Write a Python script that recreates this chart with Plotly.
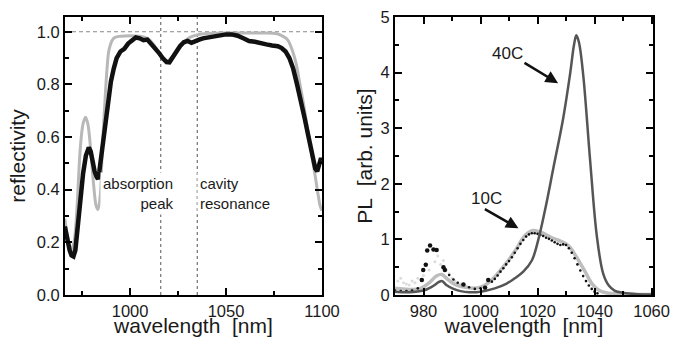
import plotly.graph_objects as go

# ---------------- data: reflectivity (left panel) ----------------
refl_theory_x = [966, 967, 968.5, 969.5, 971, 972.5, 974, 975.5, 976.8, 978, 979.5, 981, 982.3, 983.3,
                 984.5, 985.5, 986.8, 988, 989, 990.5, 992, 995, 1000, 1005, 1009, 1012, 1015, 1017.5,
                 1019.5, 1022, 1025, 1028, 1031, 1035, 1040, 1050, 1060, 1070, 1076, 1079, 1082, 1084.5,
                 1086.5, 1088.5, 1090.5, 1092.5, 1094.5, 1096.5, 1098, 1099, 1100]
refl_theory_y = [0.29, 0.24, 0.19, 0.17, 0.21, 0.35, 0.55, 0.65, 0.675, 0.65, 0.55, 0.42, 0.34, 0.325,
                 0.38, 0.55, 0.72, 0.86, 0.93, 0.965, 0.978, 0.983, 0.985, 0.983, 0.975, 0.955, 0.92, 0.895,
                 0.89, 0.905, 0.935, 0.96, 0.978, 0.988, 0.993, 0.995, 0.995, 0.995, 0.993, 0.985, 0.97, 0.93,
                 0.88, 0.80, 0.72, 0.63, 0.54, 0.45, 0.38, 0.34, 0.32]

refl_meas_x = [966, 967, 968.5, 969.5, 970.5, 971.5, 972.5, 974, 975.5, 977, 978.5, 979.5, 980.5, 981.5,
               982.5, 983.3, 984, 985, 986, 987.5, 988.5, 990, 991.5, 993, 995, 997, 999, 1001, 1003,
               1005, 1007, 1009, 1011, 1013, 1015, 1017, 1019, 1020.5, 1022, 1024, 1026, 1028, 1030,
               1032, 1034, 1036, 1038, 1040, 1043, 1046, 1050, 1053, 1056, 1059, 1062, 1065, 1068, 1071,
               1074, 1077, 1079, 1081, 1083, 1085, 1087, 1089, 1091, 1093, 1095, 1096.5, 1097.5, 1098.5,
               1099.5, 1100]
refl_meas_y = [0.26, 0.22, 0.17, 0.15, 0.146, 0.17, 0.25, 0.36, 0.46, 0.53, 0.56, 0.545, 0.50, 0.47,
               0.45, 0.44, 0.47, 0.53, 0.59, 0.66, 0.73, 0.81, 0.86, 0.90, 0.925, 0.935, 0.955, 0.965, 0.978,
               0.975, 0.968, 0.97, 0.955, 0.94, 0.92, 0.90, 0.885, 0.884, 0.90, 0.925, 0.945, 0.96, 0.965,
               0.958, 0.962, 0.97, 0.975, 0.978, 0.982, 0.987, 0.99, 0.99, 0.985, 0.975, 0.965, 0.962, 0.955,
               0.952, 0.948, 0.945, 0.938, 0.925, 0.90, 0.86, 0.80, 0.74, 0.67, 0.60, 0.53, 0.48, 0.47,
               0.49, 0.52, 0.51]

refl_hline = [1.0]
refl_vlines = [1016, 1035]

# ---------------- data: PL (right panel) ----------------
pl40_x = [970, 975, 980, 983, 986.4, 988, 990.5, 993, 996, 1000, 1005, 1009, 1012, 1015, 1018, 1020.3,
          1023, 1025.5, 1029, 1031.4, 1032.8, 1033.6, 1034.5, 1036, 1038.4, 1040.8, 1043, 1045, 1047,
          1050, 1055, 1060]
pl40_y = [0.06, 0.05, 0.08, 0.15, 0.25, 0.18, 0.11, 0.07, 0.05, 0.06, 0.12, 0.20, 0.30, 0.42, 0.62, 1.0,
          1.62, 2.27, 3.18, 3.97, 4.5, 4.67, 4.55, 3.97, 2.45, 1.06, 0.39, 0.17, 0.08, 0.04, 0.015, 0.01]

pl10_x = [970, 975, 979, 982, 984.5, 986.4, 988.5, 991, 994.6, 998, 1001, 1003, 1005.1, 1008.6, 1012.1,
          1015.6, 1018.5, 1021.5, 1025, 1028, 1029.7, 1031.5, 1033.2, 1035, 1036.7, 1039, 1041.4, 1044,
          1050, 1060]
pl10_y = [0.12, 0.10, 0.12, 0.22, 0.34, 0.37, 0.28, 0.19, 0.14, 0.12, 0.16, 0.23, 0.33, 0.545, 0.79,
          1.07, 1.16, 1.12, 1.03, 0.97, 0.93, 0.85, 0.72, 0.57, 0.42, 0.21, 0.09, 0.04, 0.015, 0.01]

# measured 10C points: big dots around the 982 nm feature
pl10_peak_x = [979.4, 979.9, 980.8, 981.3, 982.3, 983.5, 984.6, 987, 987.5, 994, 1001.6, 1002.7]
pl10_peak_y = [0.27, 0.45, 0.545, 0.80, 0.89, 0.82, 0.81, 0.50, 0.45, 0.19, 0.13, 0.27]

# measured 10C points along the main band
pl10_band_x = [970, 972, 974, 976, 978, 989, 990.5, 992, 996, 998, 1000, 1004, 1005, 1006, 1007, 1008,
               1009, 1010, 1011, 1012, 1013, 1014, 1015, 1016, 1017, 1018, 1019, 1020, 1021, 1022, 1023,
               1024, 1025, 1026, 1027, 1028, 1029, 1030, 1031, 1032, 1033, 1034, 1035, 1036, 1037,
               1038, 1039, 1040, 1041]
pl10_band_y = [0.08, 0.07, 0.07, 0.08, 0.12, 0.36, 0.28, 0.22, 0.14, 0.11, 0.12, 0.24, 0.29, 0.35,
               0.42, 0.48, 0.55, 0.61, 0.68, 0.76, 0.84, 0.92, 0.99, 1.05, 1.09, 1.11, 1.11, 1.10, 1.08,
               1.06, 1.03, 1.01, 0.98, 0.95, 0.92, 0.90, 0.91, 0.90, 0.84, 0.76, 0.66, 0.55, 0.44, 0.34,
               0.25, 0.17, 0.11, 0.06, 0.03]

pl10_faint_x = [971, 972, 973, 974, 975, 976, 977, 978, 980, 982, 984, 985, 986, 987, 988, 989, 990,
                991, 992, 993, 995, 997]
pl10_faint_y = [0.25, 0.30, 0.22, 0.20, 0.18, 0.25, 0.22, 0.30, 0.35, 0.45, 0.60, 0.70, 0.55, 0.62,
                0.45, 0.38, 0.30, 0.25, 0.22, 0.20, 0.16, 0.13]

label_40 = "40C"
label_10 = "10C"

FONT = "Liberation Sans, Arial, Helvetica, sans-serif"
TXT = "#1a1a1a"

fig = go.Figure()

# left panel traces
fig.add_trace(go.Scatter(x=refl_theory_x, y=refl_theory_y, mode="lines",
                         line=dict(color="#b8b8b8", width=3, shape="spline"),
                         xaxis="x", yaxis="y", showlegend=False))
fig.add_trace(go.Scatter(x=refl_meas_x, y=refl_meas_y, mode="lines", line=dict(color="#111111", width=4.5),
                         xaxis="x", yaxis="y", showlegend=False))

# right panel traces
fig.add_trace(go.Scatter(x=pl10_faint_x, y=pl10_faint_y, mode="markers", marker=dict(color="#dcdcdc", size=3),
                         xaxis="x2", yaxis="y2", showlegend=False))
fig.add_trace(go.Scatter(x=pl10_x, y=pl10_y, mode="lines", line=dict(color="#bdbdbd", width=3.5, shape="spline"),
                         xaxis="x2", yaxis="y2", showlegend=False))
fig.add_trace(go.Scatter(x=pl10_band_x, y=pl10_band_y, mode="markers", marker=dict(color="#111111", size=2.6),
                         xaxis="x2", yaxis="y2", showlegend=False))
fig.add_trace(go.Scatter(x=pl10_peak_x, y=pl10_peak_y, mode="markers", marker=dict(color="#111111", size=4.5),
                         xaxis="x2", yaxis="y2", showlegend=False))
fig.add_trace(go.Scatter(x=pl40_x, y=pl40_y, mode="lines", line=dict(color="#555555", width=2.5, shape="spline"),
                         xaxis="x2", yaxis="y2", showlegend=False))

# reference lines (left panel)
for h in refl_hline:
    fig.add_shape(type="line", xref="x domain", yref="y", x0=0, x1=1, y0=h, y1=h,
                  line=dict(color="#8a8a8a", width=1, dash="4px,3px"), layer="below")
for v in refl_vlines:
    fig.add_shape(type="line", xref="x", yref="y domain", x0=v, x1=v, y0=0, y1=1,
                  line=dict(color="#555555", width=1, dash="3px,3px"), layer="below")

# text annotations left panel
fig.add_annotation(x=1024.7, y=0.385, xref="x", yref="y", text="absorption<br>peak", showarrow=False,
                   xanchor="right", align="right", font=dict(family=FONT, size=15, color=TXT),
                   bgcolor="white", borderpad=2)
fig.add_annotation(x=1035, y=0.385, xref="x", yref="y", text="cavity<br>resonance", showarrow=False,
                   xanchor="left", align="left", font=dict(family=FONT, size=15, color=TXT),
                   bgcolor="white", borderpad=2)

# right panel labels with arrows
fig.add_annotation(x=1009.6, y=4.35, xref="x2", yref="y2", text=label_40, showarrow=False,
                   font=dict(family=FONT, size=17, color=TXT))
fig.add_annotation(x=1027.2, y=3.81, ax=1014.9, ay=4.19, xref="x2", yref="y2", axref="x2", ayref="y2",
                   text="", showarrow=True, arrowhead=2, arrowsize=1, arrowwidth=2.5, arrowcolor="#111")
fig.add_annotation(x=1002.2, y=1.74, xref="x2", yref="y2", text=label_10, showarrow=False,
                   font=dict(family=FONT, size=17, color=TXT))
fig.add_annotation(x=1013.3, y=1.20, ax=1001.0, ay=1.56, xref="x2", yref="y2", axref="x2", ayref="y2",
                   text="", showarrow=True, arrowhead=2, arrowsize=1, arrowwidth=2.5, arrowcolor="#111")

axis_common = dict(showline=True, linewidth=2, linecolor="black", mirror="allticks", ticks="inside",
                   ticklen=7, tickwidth=2, tickcolor="black", showgrid=False, zeroline=False,
                   automargin=False,
                   tickfont=dict(family=FONT, size=16.5, color=TXT))
minor_common = dict(ticks="inside", ticklen=4, tickwidth=2, tickcolor="black")
title_font = dict(family=FONT, size=21, color=TXT)

fig.update_layout(
    width=677, height=337, margin=dict(l=0, r=0, t=0, b=0, autoexpand=False),
    paper_bgcolor="white", plot_bgcolor="white",
    font=dict(family=FONT, color=TXT),
    xaxis=dict(domain=[65/677, 322/677], range=[966.1, 1100], tickvals=[1000, 1050, 1100],
               minor=dict(tickvals=[975, 1025, 1075], **minor_common),
               title=dict(text="wavelength\u00a0 [nm]", font=title_font, standoff=6),
               anchor="y", **axis_common),
    yaxis=dict(domain=[1-295/337, 1-17/337], range=[0, 1.056], tickvals=[0, 0.2, 0.4, 0.6, 0.8, 1.0],
               tickformat=".1f",
               minor=dict(tickvals=[0.1, 0.3, 0.5, 0.7, 0.9], **minor_common),
               title=dict(text="reflectivity", font=title_font, standoff=5),
               anchor="x", **axis_common),
    xaxis2=dict(domain=[395/677, 653/677], range=[970, 1060.5], tickvals=[980, 1000, 1020, 1040, 1060],
                minor=dict(tickvals=[970, 990, 1010, 1030, 1050], **minor_common),
                title=dict(text="wavelength\u00a0 [nm]", font=title_font, standoff=6),
                anchor="y2", **axis_common),
    yaxis2=dict(domain=[1-295/337, 1-17/337], range=[0, 5], tickvals=[0, 1, 2, 3, 4, 5],
                minor=dict(tickvals=[0.5, 1.5, 2.5, 3.5, 4.5], **minor_common),
                title=dict(text="PL\u00a0 [arb. units]", font=title_font, standoff=2),
                anchor="x2", **axis_common),
)

fig.write_html("out.html", config={"displayModeBar": False},
               post_script="document.body.style.margin='0';")
